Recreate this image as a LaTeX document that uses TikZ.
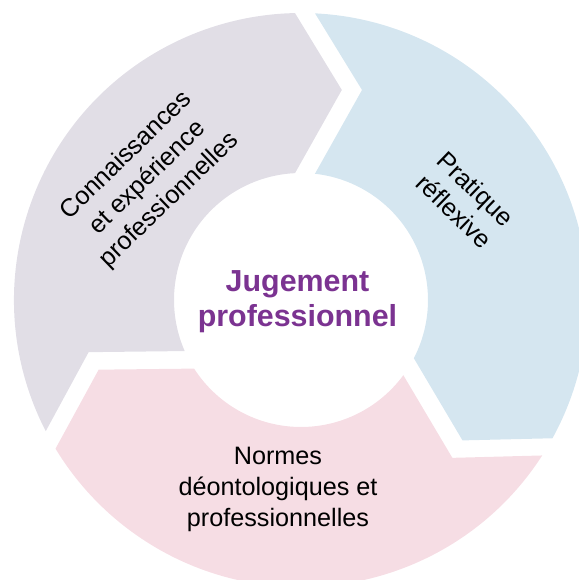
\documentclass[tikz,border=0pt]{standalone}
\usepackage{fontspec}
\setmainfont{Liberation Sans}
\usetikzlibrary{positioning}
\definecolor{segGray}{HTML}{E1DEE6}
\definecolor{segBlue}{HTML}{D5E6F0}
\definecolor{segPink}{HTML}{F6DDE4}
\definecolor{judgePurple}{HTML}{7B3391}

\begin{document}
\begin{tikzpicture}[x=0.5pt,y=0.5pt,
    segtext/.style={align=center,font=\fontsize{12.6}{15.5}\selectfont},
    core/.style={align=center,text=judgePurple,font=\bfseries\fontsize{15.2}{17.5}\selectfont}]
  \useasboundingbox (-301,-280) rectangle (278,300);
  % three arrow segments of the cycle
  \foreach \rot/\col in {0/segGray,-120/segBlue,120/segPink}
    \fill[\col,rotate=\rot] (203.7:127) -- (193.8:218.7) -- (207.2:287)
      arc[start angle=207.2,end angle=91.2,radius=287] -- (79:214) -- (92.7:127)
      arc[start angle=92.7,end angle=203.7,radius=127] -- cycle;

  \node[core]               (jp) at (-3.5,-1.5)  {Jugement\\professionnel};
  \node[segtext,rotate=44]  (ce) at (-153,122)   {Connaissances\\et expérience\\professionnelles};
  \node[segtext,rotate=-44] (pr) at (164,100)    {Pratique\\réflexive};
  \node[segtext]            (nd) at (-23,-189.5) {Normes\\déontologiques et\\professionnelles};
\end{tikzpicture}
\end{document}
